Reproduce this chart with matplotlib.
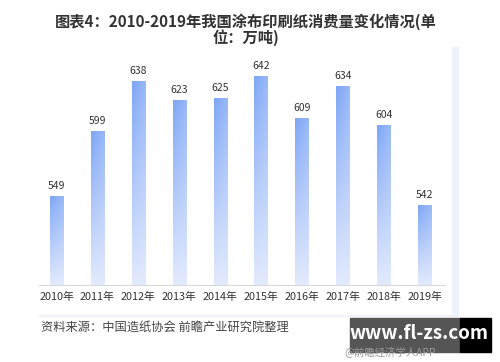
import numpy as np
import matplotlib.pyplot as plt
from matplotlib.colors import LinearSegmentedColormap
from matplotlib.patches import Rectangle

plt.rcParams['font.family'] = ['Noto Sans CJK SC', 'DejaVu Sans']

years = ['2010年', '2011年', '2012年', '2013年', '2014年',
         '2015年', '2016年', '2017年', '2018年', '2019年']
consumption = [549, 599, 638, 623, 625, 642, 609, 634, 604, 542]

title = '图表4：2010-2019年我国涂布印刷纸消费量变化情况(单\n位：万吨)'
source = '资料来源：中国造纸协会 前瞻产业研究院整理'

fig = plt.figure(figsize=(5, 3.62), dpi=100)
fig.patch.set_facecolor('white')

# faint panel edge on right and bottom
fig.patches.append(Rectangle((0.904, 0.13), 0.012, 0.74, transform=fig.transFigure,
                             color='#eef2fa', zorder=0))
fig.patches.append(Rectangle((0.078, 0.127), 0.838, 0.004, transform=fig.transFigure,
                             color='#f1f3f8', zorder=0))

ax = fig.add_axes([0.078, 0.2127, 0.812, 0.635])

cmap = LinearSegmentedColormap.from_list('bluegrad', ['#e2eafd', '#7fa7f6'])
grad = np.linspace(0, 1, 100).reshape(-1, 1) * np.ones((1, 10))
grad = grad * (1 - 0.25 * np.linspace(0, 1, 10))[None, :]

x = np.arange(len(years))
bars = ax.bar(x, consumption, width=0.32, color='none', edgecolor='none')
for b, v in zip(bars, consumption):
    x0 = b.get_x()
    im = ax.imshow(grad, cmap=cmap, vmin=0, vmax=1, origin='lower', aspect='auto',
                   extent=[x0, x0 + b.get_width(), 480, v], zorder=2)
    im.set_clip_path(b)
    ax.text(b.get_x() + b.get_width() / 2, v + 4, str(v), ha='center', va='bottom',
            fontsize=7.5, color='#333333')

ax.set_aspect('auto')
ax.set_xlim(-0.43, 9.5)
ax.set_ylim(480, 658)

for s in ['top', 'right', 'left']:
    ax.spines[s].set_visible(False)
ax.spines['bottom'].set_color('#d9d9d9')
ax.spines['bottom'].set_linewidth(0.8)
ax.set_yticks([])
ax.set_xticks(x)
ax.set_xticklabels(years, fontsize=7.8, color='#333333')
ax.tick_params(axis='x', length=0, pad=5)

fig.text(0.492, 0.962, title, ha='center', va='top', fontsize=11,
         fontweight='bold', color='#333333', linespacing=0.9)

fig.text(0.082, 0.095, source, ha='left', va='center', fontsize=8.8, color='#444444')

# watermark box
fig.patches.append(Rectangle((0.70, 0.028), 0.22, 0.094, transform=fig.transFigure,
                             color='#555555', zorder=3))
fig.patches.append(Rectangle((0.92, 0.028), 0.062, 0.094, transform=fig.transFigure,
                             color='#000000', zorder=3))
fig.text(0.837, 0.078, 'www.fl-zs.com', ha='center', va='center', fontsize=13.5,
         fontweight='bold', color='white', zorder=4)
fig.text(0.688, 0.028, '@前瞻经济学人APP', ha='left', va='center', fontsize=7.5,
         color='#999999', zorder=5)

fig.savefig('out.png', dpi=100)
